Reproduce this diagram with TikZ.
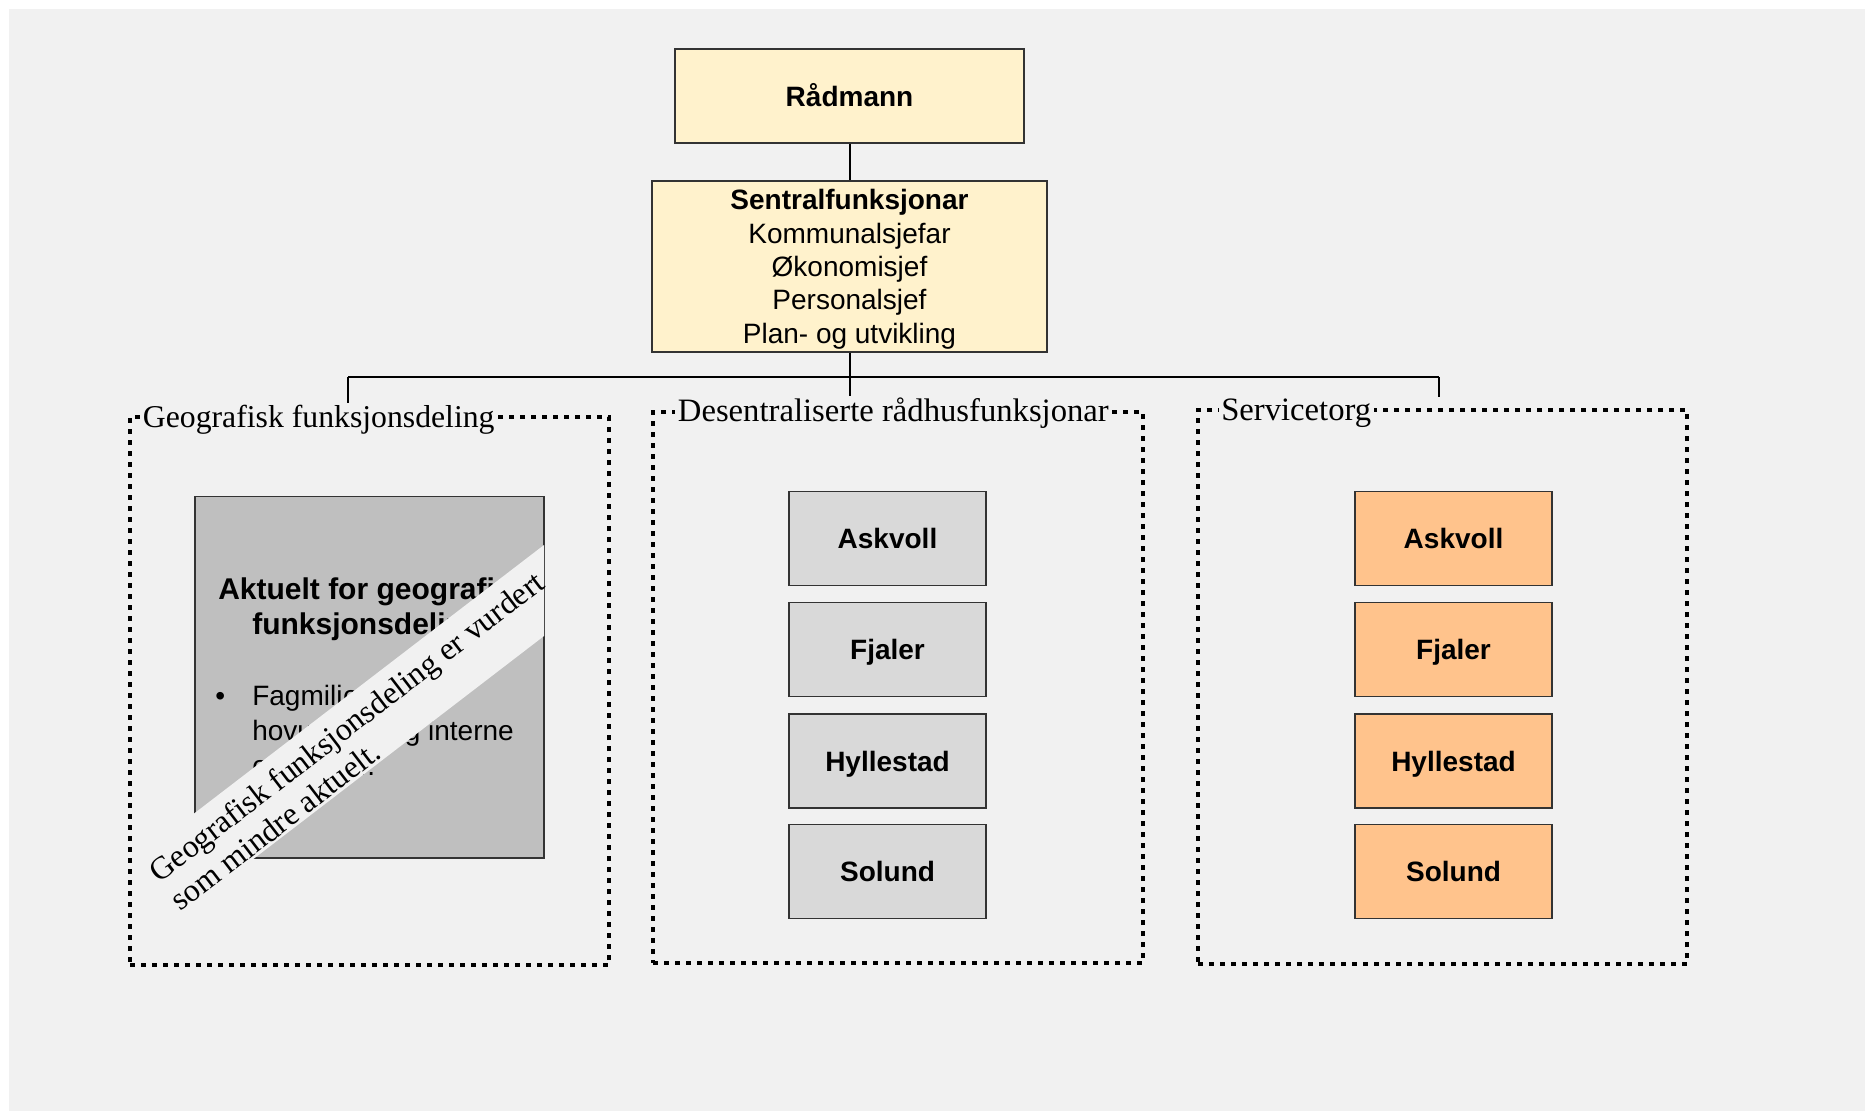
\documentclass[tikz,border=0pt]{standalone}
\usepackage{fontspec}
\setmainfont{Liberation Serif}
\setsansfont{Liberation Sans}
\definecolor{bgc}{HTML}{F1F1F1}
\definecolor{yel}{HTML}{FFF2CC}
\definecolor{gry}{HTML}{D9D9D9}
\definecolor{org}{HTML}{FFC38C}
\definecolor{dgr}{HTML}{BFBFBF}
\definecolor{edge}{HTML}{333333}
\begin{document}
\begin{tikzpicture}[x=0.75pt,y=-0.75pt,
  box/.style={draw=edge, line width=0.8pt, inner sep=0pt, align=center,
    font=\sffamily\fontsize{21}{25}\selectfont},
  yelbox/.style={box, fill=yel},
  mun/.style={box, fill=gry, font=\sffamily\bfseries\fontsize{21}{25}\selectfont,
    minimum width=147.75pt, minimum height=70.5pt, text height=15pt, text depth=0pt},
  orgbox/.style={mun, fill=org},
  dotbox/.style={draw=black, line width=3pt, dash pattern=on 3.5pt off 4.75pt},
  grouplabel/.style={fill=bgc, inner xsep=2pt, inner ysep=1pt, anchor=base west,
    font=\fontsize{24.5}{28}\selectfont},
  conn/.style={draw=black, line width=1.5pt},
  bodytext/.style={anchor=base west, inner sep=0pt, font=\sffamily\fontsize{21}{25}\selectfont},
  boldtext/.style={anchor=base west, inner sep=0pt, font=\sffamily\bfseries\fontsize{22.5}{27}\selectfont}
]
\useasboundingbox (0,0) rectangle (1865,1111);
\fill[bgc] (9,9) rectangle (1865,1111);

% group containers
\node[dotbox, minimum width=359.25pt, minimum height=411pt] (gbox) at (369.5,691) {};
\node[dotbox, minimum width=367.5pt, minimum height=413.25pt] (dbox) at (898,687.5) {};
\node[dotbox, minimum width=366.75pt, minimum height=415.5pt] (sbox) at (1442.5,687) {};

% top boxes
\node[yelbox, font=\sffamily\bfseries\fontsize{21}{25}\selectfont, minimum width=261.75pt, minimum height=70.5pt,
  text height=15pt, text depth=0pt] (rad) at (849.5,96) {Rådmann};
\node[yelbox, minimum width=296.25pt, minimum height=128.25pt] (sen) at (849.5,266.5)
  {\rule{0pt}{19.5pt}\textbf{Sentralfunksjonar}\\Kommunalsjefar\\Økonomisjef\\Personalsjef\\Plan- og utvikling};

% connectors
\coordinate (jl) at (348,377);
\coordinate (jr) at (1439,377);
\draw[conn] (rad) -- (sen);
\draw[conn] (jl) -- (jr);

% group labels
\node[grouplabel, font=\fontsize{23.8}{28}\selectfont] (glab) at (140,427) {Geografisk funksjonsdeling};
\node[grouplabel] (dlab) at (675,421.7) {Desentraliserte rådhusfunksjonar};
\node[grouplabel] (slab) at (1218.3,420.7) {Servicetorg};

\draw[conn] (sen.south) -- (sen.south |- dlab.north);
\draw[conn] (jl) -- (jl |- glab.north);
\draw[conn] (jr) -- (jr |- slab.north);

% desentraliserte
\node[mun] (da) at (887.5,538.7) {Askvoll};
\node[mun] (df) at (887.5,649.5) {Fjaler};
\node[mun] (dh) at (887.5,761) {Hyllestad};
\node[mun] (ds) at (887.5,871.5) {Solund};

% servicetorg
\node[orgbox] (sa) at (1453.5,538.7) {Askvoll};
\node[orgbox] (sf) at (1453.5,649.5) {Fjaler};
\node[orgbox] (sh) at (1453.5,761) {Hyllestad};
\node[orgbox] (ss) at (1453.5,871.5) {Solund};

% geografisk box
\node[draw=edge, line width=0.8pt, fill=dgr, minimum width=261.75pt, minimum height=271.1pt] (akt) at (369.5,677.25) {};
\node[boldtext] (t1) at (218,599) {Aktuelt for geografisk};
\node[boldtext] (t2) at (252,634) {funksjonsdeling};
\node[bodytext] (bul) at (215,705) {\textbullet};
\node[bodytext] (b1) at (252,705) {Fagmiljø på};
\node[bodytext] (b2) at (252,740) {hovudsete og interne};
\node[bodytext] (b3) at (252,775) {oppgåver.};

% banner strip
\fill[bgc] (140,855) -- (544,545) -- (544,636) -- (140,946) -- cycle;
\node[rotate=37.5, align=left, inner sep=0pt, font=\fontsize{24}{26.5}\selectfont] (banner) at (357,740.4)
  {Geografisk funksjonsdeling er vurdert\\som mindre aktuelt.};
\end{tikzpicture}
\end{document}
